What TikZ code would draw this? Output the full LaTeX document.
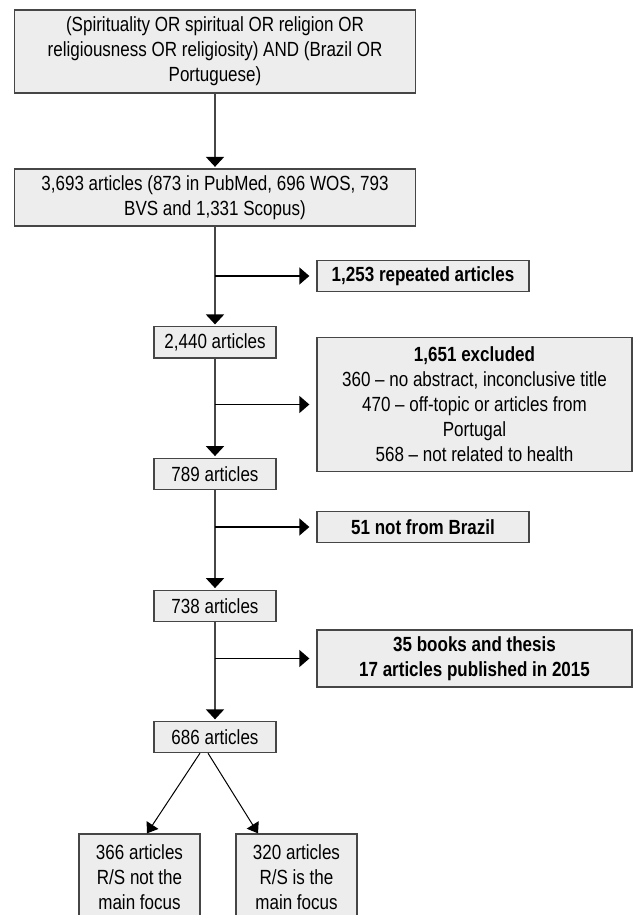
\documentclass[tikz,border=0pt]{standalone}
\usepackage{fontspec}
\setmainfont[FakeStretch=0.83]{Liberation Sans}
\usetikzlibrary{arrows.meta}
\definecolor{boxgray}{RGB}{237,237,237}
\definecolor{linegray}{RGB}{70,70,70}
\tikzset{
stage/.style={draw=linegray, fill=boxgray, line width=1.3pt, align=center,
  inner sep=0pt, font=\fontsize{20.5}{25}\selectfont},
down/.style={draw=linegray, line width=2pt, shorten >=1.5pt,
  -{Triangle[length=10pt,width=18pt,color=black]}},
aside/.style={draw=black, line width=1.3pt, shorten >=7pt,
  -{Triangle[length=10pt,width=17pt]}},
split/.style={draw=black, line width=1pt, -{Triangle[length=10pt,width=14pt]}}
}
\begin{document}
\begin{tikzpicture}[x=1pt,y=-1pt]
\useasboundingbox (0,0) rectangle (633,915);
\node[stage, minimum width=401pt, minimum height=83pt] (query) at (215,51.5)
  {(Spirituality OR spiritual OR religion OR\\religiousness OR religiosity) AND (Brazil OR\\Portuguese)};
\node[stage, minimum width=401pt, minimum height=57pt] (total) at (215,197.5)
  {3,693 articles (873 in PubMed, 696 WOS, 793\\BVS and 1,331 Scopus)};
\node[stage, minimum width=212pt, minimum height=31.5pt] (repeated) at (423,276)
  {\textbf{1,253 repeated articles}};
\node[stage, minimum width=122pt, minimum height=31.5pt] (n2440) at (215,342.3) {2,440 articles};
\node[stage, minimum width=315pt, minimum height=134pt] (excluded) at (474.5,404.5)
  {\textbf{1,651 excluded}\\360 -- no abstract, inconclusive title\\470 -- off-topic or articles from\\Portugal\\568 -- not related to health};
\node[stage, minimum width=122pt, minimum height=31.5pt] (n789) at (215,474) {789 articles};
\node[stage, minimum width=212pt, minimum height=31pt] (brazil) at (423,527)
  {\textbf{51 not from Brazil}};
\node[stage, minimum width=122pt, minimum height=31.5pt] (n738) at (215,606) {738 articles};
\node[stage, minimum width=315pt, minimum height=57pt] (books) at (474.5,658.5)
  {\textbf{35 books and thesis}\\\textbf{17 articles published in 2015}};
\node[stage, minimum width=122pt, minimum height=31pt] (n686) at (215,737) {686 articles};
\node[stage, minimum width=121pt, minimum height=86pt] (minor) at (139.5,877)
  {366 articles\\R/S not the\\main focus};
\node[stage, minimum width=121pt, minimum height=86pt] (major) at (296.5,877)
  {320 articles\\R/S is the\\main focus};

\draw[down] (query) -- (total);
\draw[down] (total) -- (n2440);
\draw[down] (n2440) -- (n789);
\draw[down] (n789) -- (n738);
\draw[down] (n738) -- (n686);
\draw[aside] (total.south |- repeated.west) -- (repeated.west);
\draw[aside] (n2440.south |- excluded.west) -- (excluded.west);
\draw[aside] (n789.south |- brazil.west) -- (brazil.west);
\draw[aside] (n738.south |- books.west) -- (books.west);
\draw[split] ([xshift=-15pt]n686.south) -- ([xshift=7.5pt]minor.north);
\draw[split] ([xshift=-7pt]n686.south) -- ([xshift=-38.5pt]major.north);
\end{tikzpicture}
\end{document}
